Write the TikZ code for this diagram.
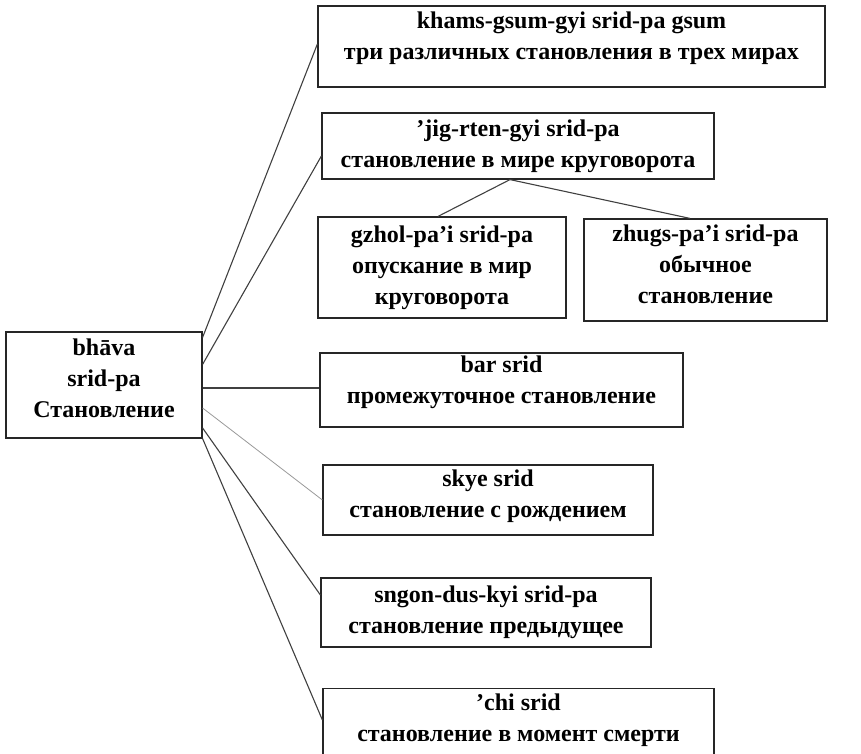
\documentclass[tikz,border=0pt]{standalone}
\usepackage{fontspec}
\setmainfont{Liberation Serif}
\begin{document}
\begin{tikzpicture}[x=1pt,y=-1pt,
  box/.style={draw=black!85, line width=1.2pt, inner sep=0pt, align=center,
    font=\bfseries\fontsize{24}{31}\selectfont, text=black},
  link/.style={draw=black!75, line width=1.1pt},
  faint/.style={draw=black!40, line width=0.8pt}]
\useasboundingbox (0,0) rectangle (861,754);
\clip (0,0) rectangle (861,754);

% root
\node[box, minimum width=196pt, minimum height=106pt, text depth=13pt] (root) at (104,385)
  {bhāva\\srid-pa\\Становление};

% branches
\node[box, minimum width=507pt, minimum height=81pt, text depth=22pt] (A) at (571.5,46.5)
  {khams-gsum-gyi srid-pa gsum\\три различных становления в трех мирах};
\node[box, minimum width=392pt, minimum height=66pt] (B) at (518,146)
  {’jig-rten-gyi srid-pa\\становление в мире круговорота};
\node[box, minimum width=248pt, minimum height=101pt] (C) at (442,267.5)
  {gzhol-pa’i srid-pa\\опускание в мир\\круговорота};
\node[box, minimum width=243pt, minimum height=102pt, text depth=12pt] (D) at (705.5,270)
  {zhugs-pa’i srid-pa\\обычное\\становление};
\node[box, minimum width=363pt, minimum height=74pt, text depth=21pt] (E) at (501.5,390)
  {bar srid\\промежуточное становление};
\node[box, minimum width=330pt, minimum height=70pt, text depth=12pt] (F) at (488,500)
  {skye srid\\становление с рождением};
\node[box, minimum width=330pt, minimum height=69pt] (G) at (486,612.5)
  {sngon-dus-kyi srid-pa\\становление предыдущее};
\node[box, anchor=north, minimum width=391pt, inner ysep=5pt, text depth=60pt] (H) at (518.5,688)
  {’chi srid\\становление в момент смерти};

% connectors
\draw[link] ([yshift=-6pt]root.north east) -- ([yshift=2.5pt]A.west);
\draw[link] ([yshift=-33pt]root.north east) -- ([yshift=-10pt]B.west);
\draw[link] ([yshift=-3pt]root.east) -- ([yshift=-3pt]root.east -| E.west);
\draw[faint] ([yshift=-23pt]root.east) -- (F.west);
\draw[link] ([yshift=-43pt]root.east) -- ([yshift=17.5pt]G.west);
\draw[link] (root.south east) -- ([yshift=-32pt]H.north west);
\draw[link] ([xshift=-8pt]B.south) -- ([xshift=-4pt]C.north);
\draw[link] ([xshift=-8pt]B.south) -- ([xshift=-15.5pt]D.north);
\end{tikzpicture}
\end{document}
